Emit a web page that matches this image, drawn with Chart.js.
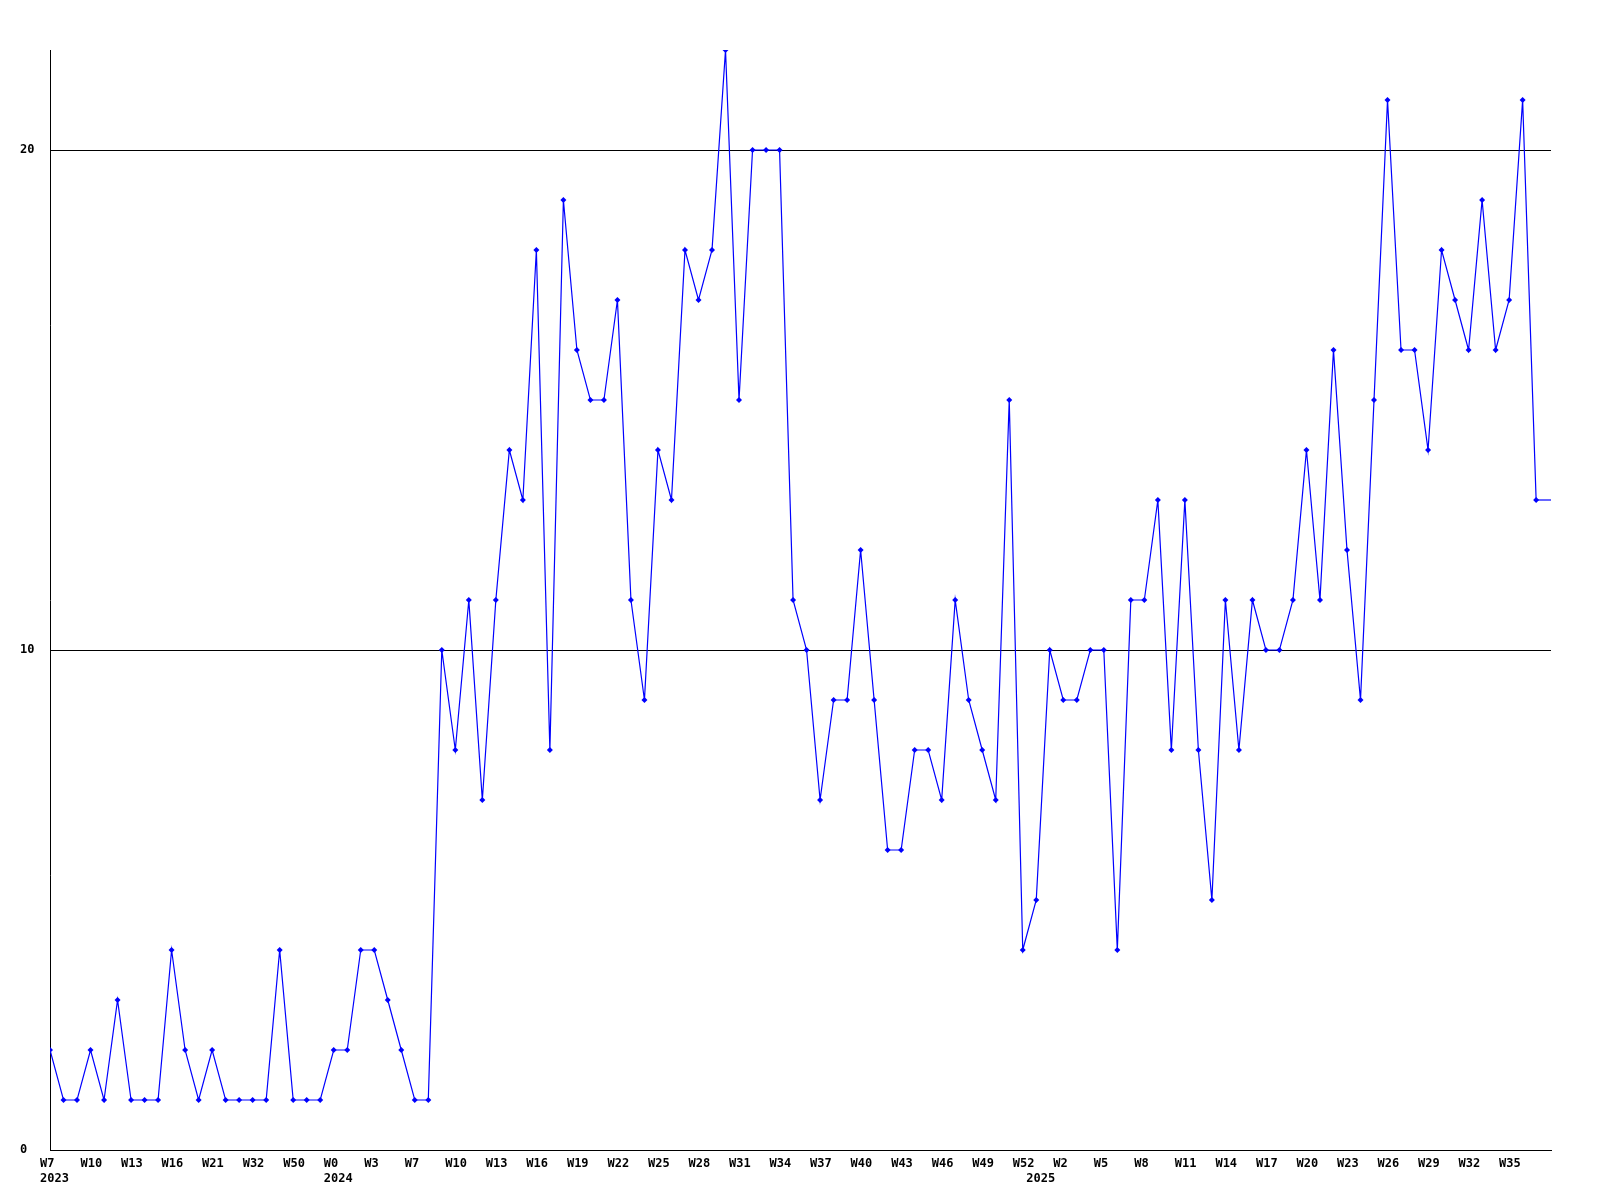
<!DOCTYPE html>
<html>
<head>
<meta charset="utf-8">
<script src="https://cdn.jsdelivr.net/npm/chart.js@4"></script>
<style>
  html, body { margin: 0; padding: 0; background: #fff; }
  canvas { display: block; }
</style>
</head>
<body>
<canvas id="weekly" width="1600" height="1200"></canvas>
<script>
// one value per sample, weekly
const values = [2,1,1,2,1,3,1,1,1,4, 2,1,2,1,1,1,1,4,1,1,
                1,2,2,4,4,3,2,1,1,10, 8,11,7,11,14,13,18,8,19,16,
                15,15,17,11,9,14,13,18,17,18, 22,15,20,20,20,11,10,7,9,9,
                12,9,6,6,8,8,7,11,9,8, 7,15,4,5,10,9,9,10,10,4,
                11,11,13,8,13,8,5,11,8,11, 10,10,11,14,11,16,12,9,15,21,
                16,16,14,18,17,16,19,16,17,21, 13]
// label shown under every 3rd sample
const weekTicks = ['W7','W10','W13','W16','W21','W32','W50','W0','W3','W7','W10','W13',
                   'W16','W19','W22','W25','W28','W31','W34','W37','W40','W43','W46','W49',
                   'W52','W2','W5','W8','W11','W14','W17','W20','W23','W26','W29','W32','W35']
const yearTicks = [[0,'2023'],[21,'2024'],[73,'2025']]

const monoFont = {family: 'DejaVu Sans Mono', size: 12, weight: 'bold', lineHeight: 1.25}

// last value carries on to the right edge
const tailLine = {
    id: 'tailLine',
    afterDatasetsDraw(chart) {
        const pts = chart.getDatasetMeta(0).data
        const last = pts[pts.length-1]
        const ctx = chart.ctx
        ctx.save()
        ctx.strokeStyle = '#0000ff'
        ctx.lineWidth = 1.2
        ctx.beginPath()
        ctx.moveTo(last.x, last.y)
        ctx.lineTo(chart.chartArea.right, last.y)
        ctx.stroke()
        ctx.restore()
    }
}

new Chart(document.getElementById('weekly'), {
    type: 'line',
    data: {
        datasets: [{
            data: values.map((v, i) => ({x: i, y: v})),
            borderColor: '#0000ff',
            borderWidth: 1.2,
            backgroundColor: '#0000ff',
            pointStyle: 'rectRot',
            pointRadius: 3,
            pointBorderWidth: 0,
            tension: 0,
            fill: false
        }]
    },
    options: {
        responsive: false,
        animation: false,
        devicePixelRatio: 1,
        layout: {padding: {left: 20, right: 49, top: 50, bottom: 10}},
        plugins: {legend: {display: false}, tooltip: {enabled: false}},
        scales: {
            x: {
                type: 'linear',
                min: 0,
                max: 111.1,
                grid: {display: false},
                border: {display: true, color: '#000', width: 1},
                afterFit: (scale) => { scale.height = 40 },
                ticks: {
                    stepSize: 1,
                    includeBounds: false,
                    autoSkip: false,
                    maxRotation: 0,
                    align: 'start',
                    labelOffset: -10,
                    padding: -2,
                    color: '#000',
                    font: monoFont,
                    callback: (value) => {
                        if (!Number.isInteger(value)) return ''
                        const week = value % 3 === 0 ? (weekTicks[value/3] || '') : ''
                        const year = yearTicks.find(y => y[0] === value)
                        if (year) return [week, year[1]]
                        return week
                    }
                }
            },
            y: {
                min: 0,
                max: 22,
                grid: {color: '#000', lineWidth: 1, drawTicks: false},
                border: {display: true, color: '#000', width: 1},
                afterFit: (scale) => { scale.width = 30 },
                ticks: {
                    stepSize: 10,
                    includeBounds: false,
                    crossAlign: 'far',
                    padding: 0,
                    color: '#000',
                    font: monoFont
                }
            }
        }
    },
    plugins: [tailLine]
})
</script>
</body>
</html>
